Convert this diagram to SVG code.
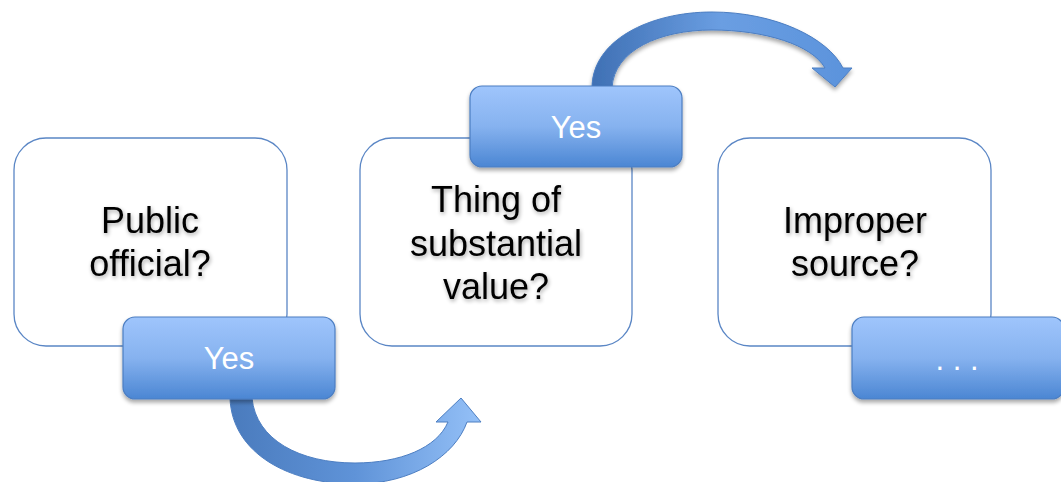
<svg xmlns="http://www.w3.org/2000/svg" width="1061" height="482" viewBox="0 0 1061 482">
<style>
.box{fill:#fff;stroke:#5a86c5;stroke-width:1.3}
.tab{fill:url(#tabg);stroke:#4c7ec2;stroke-width:1.2;filter:url(#sh)}
.q{font-family:"Liberation Sans",Arial,sans-serif;font-size:36px;fill:#000;text-anchor:middle;filter:url(#tsh)}
.y{font-family:"Liberation Sans",Arial,sans-serif;font-size:31px;fill:#fff;text-anchor:middle}
</style>
<defs>
<linearGradient id="tabg" x1="0" y1="0" x2="0" y2="1">
<stop offset="0" stop-color="#9fc5fc"/>
<stop offset="0.5" stop-color="#86b2ef"/>
<stop offset="1" stop-color="#4b86d3"/>
</linearGradient>
<linearGradient id="a1g" gradientUnits="userSpaceOnUse" x1="230" y1="0" x2="480" y2="0">
<stop offset="0" stop-color="#4a7bbd"/>
<stop offset="0.5" stop-color="#5f93d8"/>
<stop offset="1" stop-color="#94c0f7"/>
</linearGradient>
<linearGradient id="a2g" gradientUnits="userSpaceOnUse" x1="592" y1="0" x2="851" y2="0">
<stop offset="0" stop-color="#3f70b4"/>
<stop offset="0.5" stop-color="#6a9ee2"/>
<stop offset="1" stop-color="#5b93dc"/>
</linearGradient>
<filter id="sh" x="-10%" y="-20%" width="120%" height="150%">
<feGaussianBlur in="SourceAlpha" stdDeviation="2"/>
<feOffset dx="0" dy="3" result="b"/>
<feComponentTransfer><feFuncA type="linear" slope="0.35"/></feComponentTransfer>
<feMerge><feMergeNode/><feMergeNode in="SourceGraphic"/></feMerge>
</filter>
<filter id="tsh" x="-10%" y="-20%" width="120%" height="150%">
<feGaussianBlur in="SourceAlpha" stdDeviation="2"/>
<feOffset dx="1" dy="2"/>
<feComponentTransfer><feFuncA type="linear" slope="0.35"/></feComponentTransfer>
<feMerge><feMergeNode/><feMergeNode in="SourceGraphic"/></feMerge>
</filter>
</defs>
<g id="connectors">
<path d="M230 398 C232 454 290 484 355 484 C412 484 455 456 467 422 L481 422 L461 398 L436 422 L448 422 C437 448 400 463 355 463 C300 463 256 440 252 398 Z" fill="url(#a1g)" stroke="#4c7ec2" stroke-width="1"/>
<path d="M592 88 C592 40 650 12 712 12 C775 12 828 38 843 68 L852 68 L835 87 L812 68 L825 68 C812 45 765 30 712 30 C660 30 614 50 612 88 Z" fill="url(#a2g)" stroke="#4c7ec2" stroke-width="1" filter="url(#sh)"/>
</g>
<g id="node1">
<rect class="box" x="14" y="138" width="273" height="208" rx="32"/>
<text class="q" x="150" y="233">Public</text>
<text class="q" x="150" y="276">official?</text>
</g>
<g id="yes1">
<rect class="tab" x="123" y="317" width="212" height="82" rx="12"/>
<text class="y" x="229" y="369">Yes</text>
</g>
<g id="node2">
<rect class="box" x="360" y="138" width="272" height="208" rx="32"/>
<text class="q" x="496" y="212">Thing of</text>
<text class="q" x="496" y="256">substantial</text>
<text class="q" x="496" y="299">value?</text>
</g>
<g id="yes2">
<rect class="tab" x="470" y="86" width="212" height="81" rx="12"/>
<text class="y" x="576" y="138">Yes</text>
</g>
<g id="node3">
<rect class="box" x="718" y="138" width="273" height="208" rx="32"/>
<text class="q" x="855" y="233">Improper</text>
<text class="q" x="855" y="276">source?</text>
</g>
<g id="more">
<rect class="tab" x="852" y="317" width="212" height="82" rx="12"/>
<text class="y" x="957" y="370">. . .</text>
</g>
</svg>
